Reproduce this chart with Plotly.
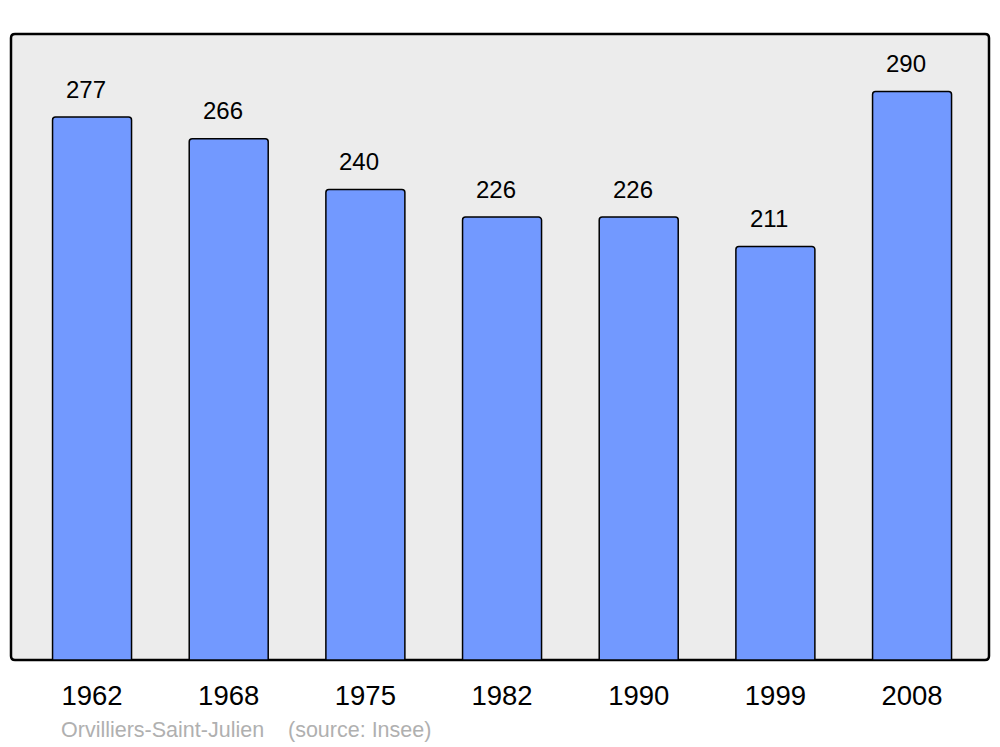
import plotly.graph_objects as go

years = ["1962", "1968", "1975", "1982", "1990", "1999", "2008"]
population = [277, 266, 240, 226, 226, 211, 290]
caption_place = "Orvilliers-Saint-Julien"
caption_source = "(source: Insee)"

FONT = "Liberation Sans, Arial, sans-serif"
xs = list(range(len(years)))

fig = go.Figure()
fig.add_trace(go.Bar(
    x=xs, y=population, width=0.578,
    marker=dict(color="#7299ff", line=dict(color="#000000", width=1.5), cornerradius=3),
    hoverinfo="skip",
))

for i, v in zip(xs, population):
    fig.add_annotation(x=i, y=v, xref="x", yref="y", text=str(v), showarrow=False,
                       yanchor="middle", xanchor="center", yshift=28, xshift=-6,
                       font=dict(family=FONT, size=24, color="#000000"))

fig.add_annotation(x=(59 - 11) / 978, y=(660 - 730) / 626, xref="paper", yref="paper",
                   text=caption_place + "\u00a0" * 4 + caption_source,
                   showarrow=False, xanchor="left", yanchor="middle",
                   font=dict(family=FONT, size=21.5, color="#b0b0b0"))

# rounded frame
r_x = 4 / 978
r_y = 4 / 626
path = (f"M {r_x},0 L {1-r_x},0 Q 1,0 1,{r_y} L 1,{1-r_y} Q 1,1 {1-r_x},1 "
        f"L {r_x},1 Q 0,1 0,{1-r_y} L 0,{r_y} Q 0,0 {r_x},0 Z")
fig.add_shape(type="path", path=path, xref="paper", yref="paper",
              fillcolor="#ececec", line=dict(color="#000000", width=2.5), layer="below")

fig.update_layout(
    width=1000, height=747,
    margin=dict(l=11, r=11, t=34, b=87, pad=0),
    paper_bgcolor="#ffffff", plot_bgcolor="rgba(0,0,0,0)",
    showlegend=False,
    xaxis=dict(range=[-0.593, 6.563], tickmode="array", tickvals=xs, ticktext=years,
               showgrid=False, zeroline=False, showline=False, ticks="",
               tickfont=dict(family=FONT, size=27.5, color="#000000"), ticklabelstandoff=16),
    yaxis=dict(range=[0, 319.4], showgrid=False, zeroline=False, showline=False,
               showticklabels=False, ticks=""),
)

fig.write_html("out.html", config={"displayModeBar": False},
               post_script="document.body.style.margin='0';document.body.style.overflow='hidden';")
